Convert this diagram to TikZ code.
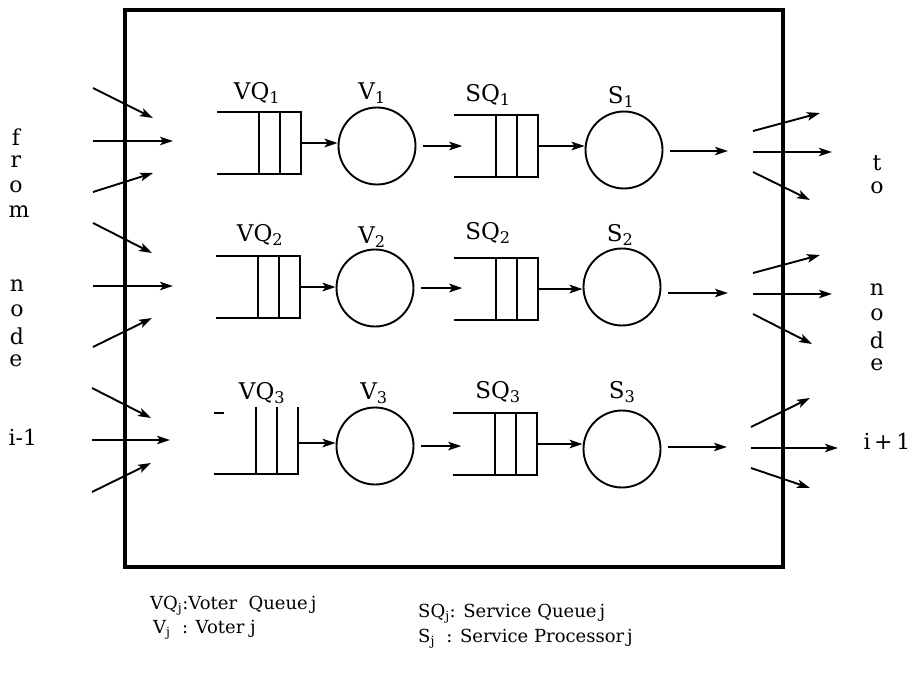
\documentclass[tikz,border=0pt]{standalone}
\usepackage{fontspec}
\setmainfont{DejaVu Serif}
\usetikzlibrary{arrows.meta}
\newcommand\drawqueue[1]{%
  \draw[qline] (#1.north west) -- (#1.north east) -- (#1.south east) -- (#1.south west);
  \draw[qline] ([xshift=-21pt]#1.north east) -- ([xshift=-21pt]#1.south east);
  \draw[qline] ([xshift=-42pt]#1.north east) -- ([xshift=-42pt]#1.south east);}
\newcommand\sub[1]{\textsubscript{#1}}
\begin{document}
\begin{tikzpicture}[x=1pt,y=-1pt,
  arr/.style={line width=1.9pt,-{Stealth[length=13pt,width=8.5pt,inset=3pt]}},
  qline/.style={line width=1.8pt},
  proc/.style={circle,draw,line width=1.9pt,minimum size=77pt,inner sep=0pt},
  queue/.style={minimum width=83pt,minimum height=62pt,inner sep=0pt},
  lab/.style={font=\fontsize{23}{27}\selectfont},
  side/.style={font=\fontsize{22}{26}\selectfont},
  leg/.style={font=\fontsize{18}{21}\selectfont,anchor=west,inner sep=0pt}]
\useasboundingbox (0,0) rectangle (914,685);
\draw[line width=3.8pt] (125,10) rectangle (783,567);

% ---------- row 1
\node[queue] (vq1) at (259,143) {};
\node[proc] (v1) at (377,146) {};
\node[queue] (sq1) at (496,146) {};
\node[proc] (s1) at (624,150) {};
\drawqueue{vq1}\drawqueue{sq1}
\node[lab] (lvq1) at (257,93) {VQ\sub{1}};
\node[lab] (lv1) at (372,93) {V\sub{1}};
\node[lab] (lsq1) at (488,95) {SQ\sub{1}};
\node[lab] (ls1) at (621,97) {S\sub{1}};
\draw[arr] (vq1.east) -- (vq1.east -| v1.west);
\draw[arr] ([xshift=7pt]v1.east) -- ([xshift=8pt]sq1.west |- v1.east);
\draw[arr] (sq1.east) -- (sq1.east -| s1.west);
\coordinate (o1) at (728,151);
\draw[arr] ([xshift=7pt]s1.east |- o1) -- (o1);
% incoming row 1
\coordinate (a1s) at (93,88);  \coordinate (a1e) at (153,118);
\coordinate (b1s) at (93,141); \coordinate (b1e) at (173,141);
\coordinate (c1s) at (93,192); \coordinate (c1e) at (153,173);
\draw[arr] (a1s) -- (a1e); \draw[arr] (b1s) -- (b1e); \draw[arr] (c1s) -- (c1e);
% outgoing row 1
\coordinate (d1s) at (753,131); \coordinate (d1e) at (820,113);
\coordinate (e1s) at (753,152); \coordinate (e1e) at (832,152);
\coordinate (f1s) at (753,172); \coordinate (f1e) at (810,200);
\draw[arr] (d1s) -- (d1e); \draw[arr] (e1s) -- (e1e); \draw[arr] (f1s) -- (f1e);

% ---------- row 2
\node[queue] (vq2) at (258,287) {};
\node[proc] (v2) at (375,288) {};
\node[queue] (sq2) at (496,289) {};
\node[proc] (s2) at (622,287) {};
\drawqueue{vq2}\drawqueue{sq2}
\node[lab] (lvq2) at (260,235) {VQ\sub{2}};
\node[lab] (lv2) at (372,237) {V\sub{2}};
\node[lab] (lsq2) at (488,233) {SQ\sub{2}};
\node[lab] (ls2) at (620,235) {S\sub{2}};
\draw[arr] (vq2.east) -- (vq2.east -| v2.west);
\draw[arr] ([xshift=7pt]v2.east) -- ([xshift=8pt]sq2.west |- v2.east);
\draw[arr] (sq2.east) -- (sq2.east -| s2.west);
\coordinate (o2) at (728,293);
\draw[arr] ([xshift=7pt]s2.east |- o2) -- (o2);
\coordinate (a2s) at (93,223);  \coordinate (a2e) at (152,253);
\coordinate (b2s) at (93,286);  \coordinate (b2e) at (173,286);
\coordinate (c2s) at (93,347);  \coordinate (c2e) at (152,318);
\draw[arr] (a2s) -- (a2e); \draw[arr] (b2s) -- (b2e); \draw[arr] (c2s) -- (c2e);
\coordinate (d2s) at (753,273); \coordinate (d2e) at (820,255);
\coordinate (e2s) at (753,294); \coordinate (e2e) at (832,294);
\coordinate (f2s) at (753,314); \coordinate (f2e) at (812,344);
\draw[arr] (d2s) -- (d2e); \draw[arr] (e2s) -- (e2e); \draw[arr] (f2s) -- (f2e);

% ---------- row 3
\node[queue] (vq3) at (256,443) {};
\node[proc] (v3) at (375,446) {};
\node[queue] (sq3) at (495,444) {};
\node[proc] (s3) at (622,449) {};
\drawqueue{sq3}
\draw[qline] ([yshift=5pt]vq3.north east) -- (vq3.south east) -- (vq3.south west);
\draw[qline] ([xshift=-21pt,yshift=5pt]vq3.north east) -- ([xshift=-21pt]vq3.south east);
\draw[qline] ([xshift=-42pt,yshift=5pt]vq3.north east) -- ([xshift=-42pt]vq3.south east);
\draw[line width=1.4pt] ([yshift=-1pt]vq3.north west) -- ++(10,0);
\node[lab] (lvq3) at (262,393) {VQ\sub{3}};
\node[lab] (lv3) at (374,393) {V\sub{3}};
\node[lab] (lsq3) at (498,392) {SQ\sub{3}};
\node[lab] (ls3) at (622,392) {S\sub{3}};
\draw[arr] (vq3.east) -- (vq3.east -| v3.west);
\draw[arr] ([xshift=7pt]v3.east) -- ([xshift=8pt]sq3.west |- v3.east);
\draw[arr] (sq3.east) -- (sq3.east -| s3.west);
\coordinate (o3) at (727,447);
\draw[arr] ([xshift=7pt]s3.east |- o3) -- (o3);
\coordinate (a3s) at (92,388);  \coordinate (a3e) at (151,418);
\coordinate (b3s) at (92,440);  \coordinate (b3e) at (170,440);
\coordinate (c3s) at (92,492);  \coordinate (c3e) at (151,463);
\draw[arr] (a3s) -- (a3e); \draw[arr] (b3s) -- (b3e); \draw[arr] (c3s) -- (c3e);
\coordinate (d3s) at (751,427); \coordinate (d3e) at (810,398);
\coordinate (e3s) at (751,448); \coordinate (e3e) at (838,448);
\coordinate (f3s) at (751,468); \coordinate (f3e) at (810,488);
\draw[arr] (d3s) -- (d3e); \draw[arr] (e3s) -- (e3e); \draw[arr] (f3s) -- (f3e);

% ---------- side texts
\node[side] (lf) at (16,137) {f};
\node[side] (lr) at (16,162) {r};
\node[side] (lo) at (16,187) {o};
\node[side] (lm) at (19,212) {m};
\node[side] (ln) at (17,286) {n};
\node[side] (lo2) at (17,311) {o};
\node[side] (ld) at (17,336) {d};
\node[side] (le) at (16,361) {e};
\node[side,anchor=west] (li) at (5,437) {i-1};
\node[side] (rt) at (877,163) {t};
\node[side] (ro) at (877,188) {o};
\node[side] (rn) at (877,290) {n};
\node[side] (ro2) at (877,315) {o};
\node[side] (rd) at (877,340) {d};
\node[side] (re) at (877,365) {e};
\node[side,anchor=west] (ri) at (860,441) {i\,+\,1};

% ---------- legend
\node[leg] (g1) at (150,606) {VQ\sub{j}:Voter\ \ Queue\,j};
\node[leg] (g2) at (153,630) {V\sub{j}\ \ : Voter j};
\node[leg] (g3) at (418,614) {SQ\sub{j}: Service Queue\,j};
\node[leg] (g4) at (418,639) {S\sub{j}\ \ : Service Processor\,j};
\end{tikzpicture}
\end{document}
